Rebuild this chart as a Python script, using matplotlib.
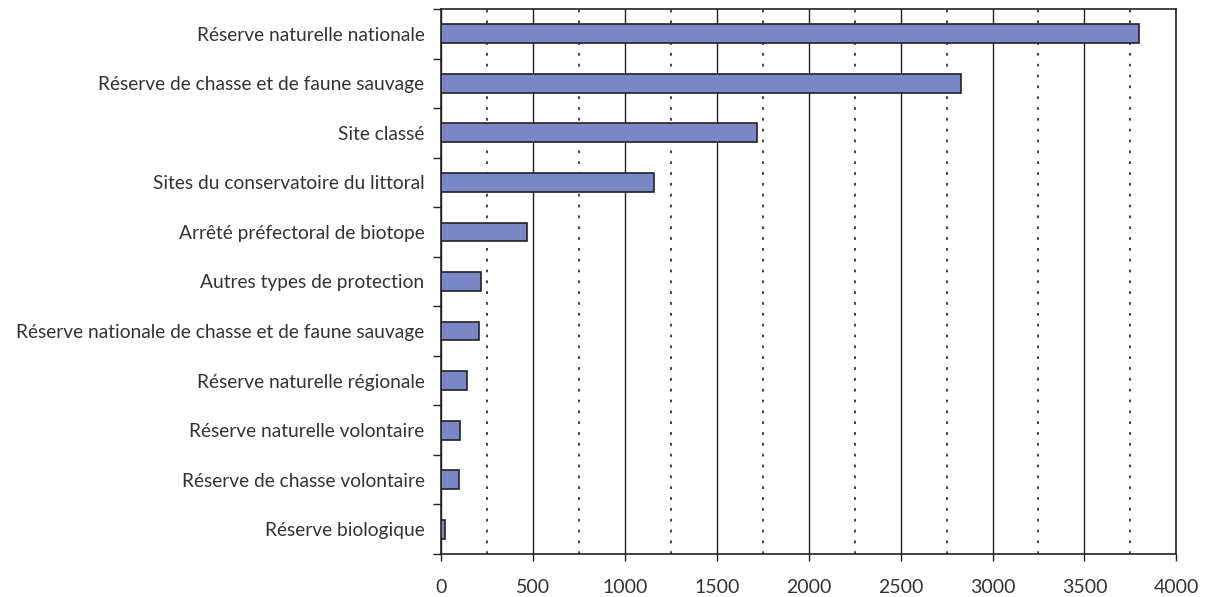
import matplotlib.pyplot as plt
from matplotlib.ticker import MultipleLocator, FixedLocator, NullFormatter

plt.rcParams['font.family'] = ['Lato', 'DejaVu Sans']

categories = [
    "Réserve naturelle nationale",
    "Réserve de chasse et de faune sauvage",
    "Site classé",
    "Sites du conservatoire du littoral",
    "Arrêté préfectoral de biotope",
    "Autres types de protection",
    "Réserve nationale de chasse et de faune sauvage",
    "Réserve naturelle régionale",
    "Réserve naturelle volontaire",
    "Réserve de chasse volontaire",
    "Réserve biologique",
]
values = [3800, 2830, 1720, 1155, 465, 215, 207, 142, 103, 95, 20]
xticks = [0, 500, 1000, 1500, 2000, 2500, 3000, 3500, 4000]

text_col = '#333333'
fig = plt.figure(figsize=(12.14, 5.97), dpi=100)
ax = fig.add_axes([0.3635, 0.072, 0.6054, 0.913])

ypos = list(range(len(categories)))
ax.barh(ypos, values, height=0.38, color='#7b86c4', edgecolor='#222222',
        linewidth=1.2, zorder=3)

ax.set_xlim(0, 4000)
ax.set_ylim(len(categories) - 0.5, -0.5)

# x grid: solid every 500, dotted every 250
ax.xaxis.set_major_locator(FixedLocator(xticks))
ax.xaxis.set_minor_locator(MultipleLocator(250))
ax.grid(axis='x', which='major', color='#222222', linewidth=1.0, zorder=1)
ax.grid(axis='x', which='minor', color='#333333', linewidth=1.3,
        linestyle=(0, (1.5, 4.5)), zorder=1)
ax.set_xticklabels([str(v) for v in xticks])
ax.tick_params(axis='x', which='major', direction='out', length=5, width=1,
               color='#222222', pad=13, labelsize=14, labelcolor=text_col)
ax.tick_params(axis='x', which='minor', length=0)

# y ticks between categories, labels at the bars
ax.yaxis.set_major_locator(FixedLocator([i - 0.5 for i in range(len(categories) + 1)]))
ax.yaxis.set_major_formatter(NullFormatter())
ax.yaxis.set_minor_locator(FixedLocator(ypos))
ax.set_yticklabels(categories, minor=True)
ax.tick_params(axis='y', which='major', direction='out', length=5.5, width=1,
               color='#222222')
ax.tick_params(axis='y', which='minor', length=0, pad=12, labelsize=13.8,
               labelcolor=text_col)

for s in ax.spines.values():
    s.set_color('#222222')
    s.set_linewidth(1.2)

fig.savefig('out.png', dpi=100)
